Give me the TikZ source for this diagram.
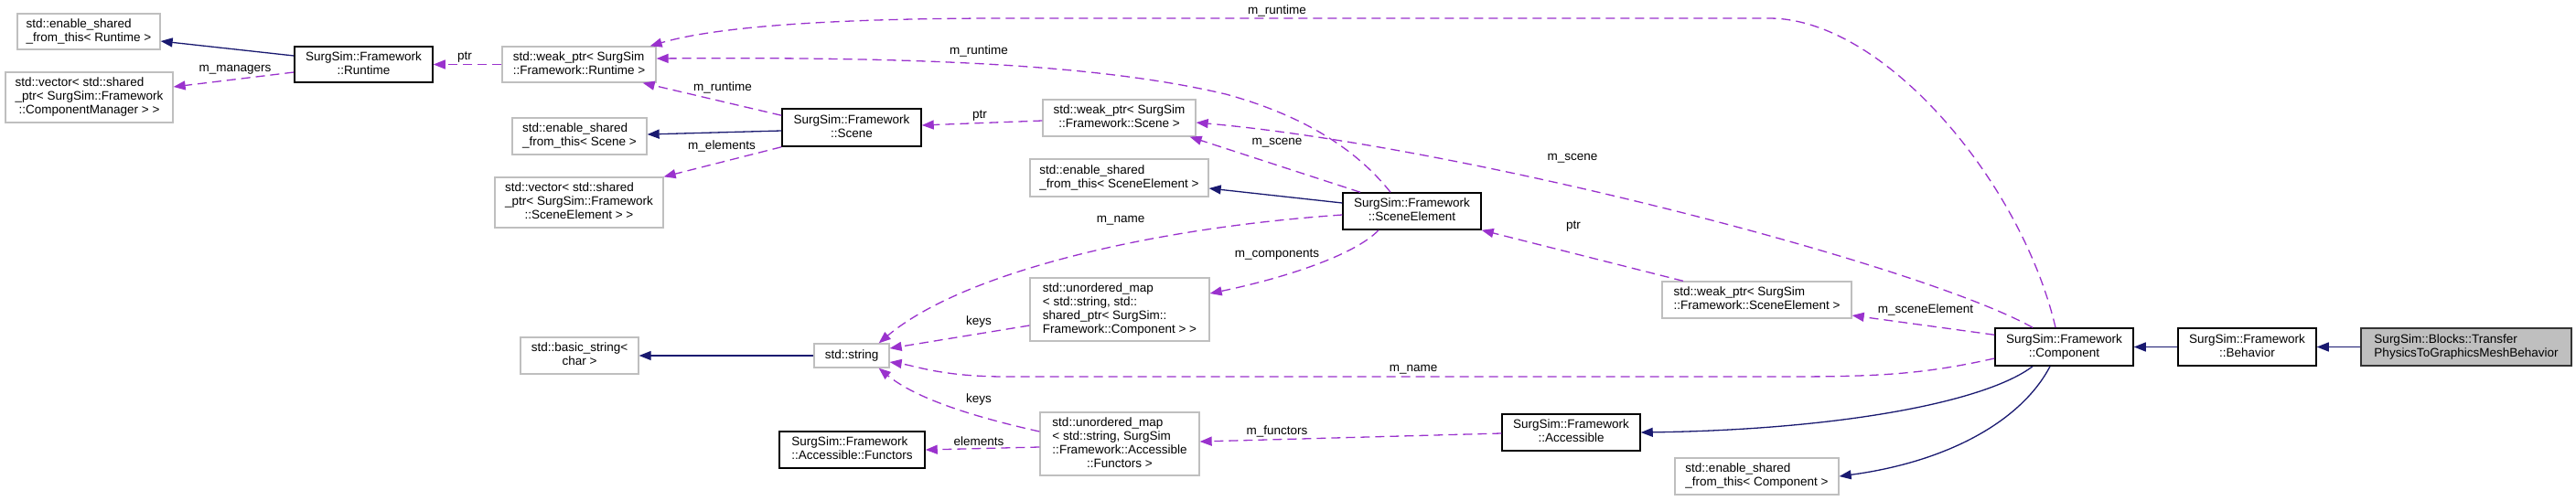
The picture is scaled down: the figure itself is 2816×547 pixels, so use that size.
\documentclass[tikz,border=0pt]{standalone}
\usepackage{fontspec}
\setmainfont{Liberation Sans}
\usetikzlibrary{arrows.meta}
\definecolor{usecol}{HTML}{9A32CD}
\definecolor{inhcol}{HTML}{191970}
\definecolor{extcol}{HTML}{BFBFBF}
\newcommand{\boxtext}[2]{\begin{tabular}{@{}l@{}}#1\\\multicolumn{1}{@{}c@{}}{#2}\end{tabular}}
\begin{document}
\begin{tikzpicture}[x=1pt,y=-1pt,
  every node/.style={font=\fontsize{13.5}{15}\selectfont},
  cls/.style={draw=black, line width=1.5pt, fill=white, inner sep=0pt, rectangle},
  ext/.style={draw=extcol, line width=1.3pt, fill=white, inner sep=0pt, rectangle},
  cur/.style={draw=black!80, line width=1.5pt, fill=extcol, inner sep=0pt, rectangle},
  uses/.style={draw=usecol, line width=1.3pt, dash pattern=on 10pt off 6pt, -{Triangle[length=13pt,width=10pt]}},
  inh/.style={draw=inhcol, line width=1.3pt, -{Triangle[length=13pt,width=10pt]}},
  lbl/.style={inner sep=0pt, text=black}
]
\useasboundingbox (0,0) rectangle (2816,547);

% nodes
\node[ext, minimum width=156pt, minimum height=39pt] (esftR) at (97,34.5) {\boxtext{std::enable\_shared}{\_from\_this< Runtime >}};
\node[ext, minimum width=183pt, minimum height=55pt] (vecCM) at (97.5,106.5) {\boxtext{std::vector< std::shared\\\_ptr< SurgSim::Framework}{::ComponentManager > >}};
\node[cls, minimum width=151pt, minimum height=39pt] (Runtime) at (397.5,70.5) {\boxtext{SurgSim::Framework}{::Runtime}};
\node[ext, minimum width=168pt, minimum height=39pt] (weakR) at (633,70.5) {\boxtext{std::weak\_ptr< SurgSim}{::Framework::Runtime >}};
\node[ext, minimum width=147pt, minimum height=40pt] (esftS) at (633.5,149) {\boxtext{std::enable\_shared}{\_from\_this< Scene >}};
\node[ext, minimum width=184pt, minimum height=55pt] (vecSE) at (633,221.5) {\boxtext{std::vector< std::shared\\\_ptr< SurgSim::Framework}{::SceneElement > >}};
\node[cls, minimum width=152pt, minimum height=41pt] (Scene) at (931,139.5) {\boxtext{SurgSim::Framework}{::Scene}};
\node[ext, minimum width=129pt, minimum height=40pt] (bstring) at (633.5,389) {\boxtext{std::basic\_string<}{char >}};
\node[ext, minimum width=82pt, minimum height=26pt] (string) at (931,389) {std::string};
\node[cls, minimum width=159pt, minimum height=40pt] (Functors) at (931.5,492) {\boxtext{SurgSim::Framework}{::Accessible::Functors}};
\node[ext, minimum width=167pt, minimum height=40pt] (weakScene) at (1223.5,129) {\boxtext{std::weak\_ptr< SurgSim}{::Framework::Scene >}};
\node[ext, minimum width=195pt, minimum height=41pt] (esftSE) at (1223.5,194.5) {\boxtext{std::enable\_shared}{\_from\_this< SceneElement >}};
\node[ext, minimum width=196pt, minimum height=69pt] (mapC) at (1224,338.5) {\boxtext{std::unordered\_map\\< std::string, std::\\shared\_ptr< SurgSim::}{Framework::Component > >}};
\node[ext, minimum width=174pt, minimum height=69pt] (mapF) at (1224,485.5) {\boxtext{std::unordered\_map\\< std::string, SurgSim\\::Framework::Accessible}{::Functors >}};
\node[cls, minimum width=151pt, minimum height=40pt] (SE) at (1543.5,231) {\boxtext{SurgSim::Framework}{::SceneElement}};
\node[ext, minimum width=207pt, minimum height=40pt] (weakSE) at (1920.5,328) {\boxtext{std::weak\_ptr< SurgSim}{::Framework::SceneElement >}};
\node[cls, minimum width=151pt, minimum height=40pt] (Accessible) at (1717.5,473) {\boxtext{SurgSim::Framework}{::Accessible}};
\node[ext, minimum width=179pt, minimum height=40pt] (esftC) at (1920.5,521) {\boxtext{std::enable\_shared}{\_from\_this< Component >}};
\node[cls, minimum width=151pt, minimum height=41pt] (Component) at (2256.5,379.5) {\boxtext{SurgSim::Framework}{::Component}};
\node[cls, minimum width=151pt, minimum height=41pt] (Behavior) at (2456.5,379.5) {\boxtext{SurgSim::Framework}{::Behavior}};
\node[cur, minimum width=230pt, minimum height=41pt] (Transfer) at (2696,379.5) {\boxtext{SurgSim::Blocks::Transfer}{PhysicsToGraphicsMeshBehavior}};

% connectors
\draw[inh] (Transfer.west) -- (Behavior.east);
\draw[inh] (Behavior.west) -- (Component.east);
\draw[inh] ([xshift=-34.5pt]Component.south) .. controls (2170,440) and (2010,470) .. (Accessible.east);
\draw[inh] ([xshift=-15.5pt]Component.south) .. controls (2210,460) and (2130,505) .. (esftC.east);
\draw[uses] ([yshift=-8pt]Component.north west) -- ([yshift=-17pt]weakSE.east);
\draw[uses] ([yshift=-12.5pt]Component.west) .. controls (2100,410) and (2050,412) .. (1950,412) -- (1100,412) .. controls (1030,412) and (1000,400) .. ([yshift=-7pt]string.east);
\draw[uses] ([xshift=-34.5pt]Component.north) .. controls (2100,290) and (1600,160) .. ([yshift=-5pt]weakScene.east);
\draw[uses] ([xshift=-9.5pt]Component.north) .. controls (2210,200) and (2060,20) .. (1934,20) -- (1100,20) .. controls (900,20) and (780,30) .. ([xshift=-7pt]weakR.north east);
\draw[uses] ([xshift=-23.5pt]SE.north) .. controls (1480,160) and (1420,125) .. (1340,103) .. controls (1200,70) and (1000,62) .. ([yshift=6.5pt]weakR.east);
\draw[uses] ([xshift=-56.5pt]SE.north) -- ([xshift=-7pt]weakScene.south east);
\draw[inh] ([yshift=9pt]SE.west) -- ([yshift=-11.5pt]esftSE.east);
\draw[uses] ([yshift=-4pt]SE.west) .. controls (1250,250) and (1050,300) .. ([xshift=-12pt]string.north east);
\draw[uses] ([xshift=-36.5pt]SE.south) .. controls (1480,280) and (1400,305) .. ([yshift=17.5pt]mapC.east);
\draw[uses] ([xshift=-80.5pt]weakSE.north) -- (SE.south east);
\draw[uses] ([yshift=-1pt]Accessible.west) -- ([yshift=2.5pt]mapF.east);
\draw[uses] ([yshift=-3.5pt]mapF.west) -- (Functors.east);
\draw[uses] ([yshift=13.5pt]mapF.west) .. controls (1060,455) and (1000,435) .. ([xshift=-12pt]string.south east);
\draw[uses] ([yshift=-17.5pt]mapC.west) -- ([yshift=8pt]string.east);
\draw[inh] (string.west) -- (bstring.east);
\draw[uses] ([yshift=-8pt]Scene.north west) -- ([xshift=-15pt]weakR.south east);
\draw[inh] ([yshift=-3.5pt]Scene.west) -- ([yshift=2pt]esftS.east);
\draw[uses] (Scene.south west) -- (vecSE.north east);
\draw[uses] ([yshift=-3pt]weakScene.west) -- ([yshift=2.5pt]Scene.east);
\draw[inh] ([yshift=9.5pt]Runtime.west) -- ([yshift=-10.5pt]esftR.east);
\draw[uses] ([yshift=-8.5pt]Runtime.west) -- ([yshift=11.5pt]vecCM.east);
\draw[uses] (weakR.west) -- (Runtime.east);

% labels
\node[lbl] (l1) at (257,76) {m\_managers};
\node[lbl] (l2) at (508,63) {ptr};
\node[lbl] (l3) at (790,96) {m\_runtime};
\node[lbl] (l4) at (789,160) {m\_elements};
\node[lbl] (l5) at (1070,56) {m\_runtime};
\node[lbl] (l6) at (1396,12) {m\_runtime};
\node[lbl] (l7) at (1071,127) {ptr};
\node[lbl] (l8) at (1396,156) {m\_scene};
\node[lbl] (l9) at (1225,241) {m\_name};
\node[lbl] (l10) at (1719,173) {m\_scene};
\node[lbl] (l11) at (1720,248) {ptr};
\node[lbl] (l12) at (1396,279) {m\_components};
\node[lbl] (l13) at (1070,352) {keys};
\node[lbl] (l14) at (1070,437) {keys};
\node[lbl] (l15) at (1070,483) {elements};
\node[lbl] (l16) at (1396,472) {m\_functors};
\node[lbl] (l17) at (1545,404) {m\_name};
\node[lbl] (l18) at (2105,339) {m\_sceneElement};
\end{tikzpicture}
\end{document}
